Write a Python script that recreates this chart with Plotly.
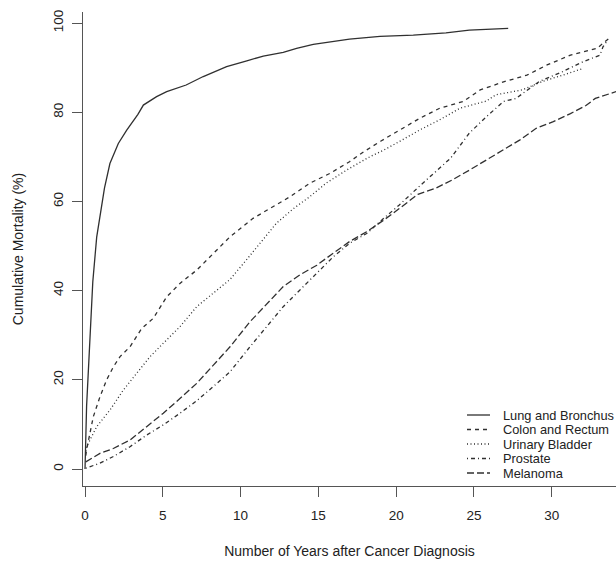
import plotly.graph_objects as go

# ---- data ----
series_names = ["Lung and Bronchus", "Colon and Rectum", "Urinary Bladder", "Prostate", "Melanoma"]

lung_x = [0, 0.05, 0.1, 0.2, 0.32, 0.5, 0.75, 1.0, 1.25, 1.6, 2.14, 2.68, 3.1, 3.4, 3.75, 4.6, 5.25,
          6.5, 7.6, 9.1, 10.4, 11.46, 12.74, 13.6, 14.67, 15.75, 17.0, 18.96, 21.1, 23.2, 24.7, 27.2]
lung_y = [0, 8, 14, 21, 31, 42, 52, 58, 63, 68.5, 73, 76, 78, 79.5, 81.6, 83.5, 84.6,
          86.1, 88, 90.2, 91.5, 92.6, 93.4, 94.3, 95.2, 95.7, 96.4, 97, 97.3, 97.8, 98.4, 98.8]

colon_x = [0.05, 0.1, 0.53, 0.96, 1.39, 1.82, 2.25, 2.89, 3.64, 4.39, 5.25, 6.1, 7.18, 8.25, 9.3,
           10.8, 11.9, 13.2, 14.46, 15.75, 17.0, 17.9, 19.0, 20.2, 21.5, 22.8, 24.3, 25.4, 26.9,
           28.4, 29.7, 31.2, 32.9, 33.7]
colon_y = [3, 4.3, 11.7, 16.2, 20, 22.9, 25.2, 27.4, 31.5, 33.8, 38.6, 41.6, 44.6, 48.4, 52,
           56.2, 58.4, 61.1, 64.1, 66.3, 68.9, 71.1, 73.5, 76, 78.6, 80.9, 82.4, 85, 86.8,
           88.3, 90.6, 92.8, 94.3, 96.6]

bladder_x = [0.05, 0.1, 0.75, 1.6, 2.46, 3.32, 4.18, 5.03, 6.1, 7.18, 8.25, 9.32, 10.4, 11.46, 12.3,
             13.4, 14.46, 15.5, 16.8, 18.3, 19.2, 20.4, 21.5, 22.8, 24.1, 25.8, 26.4, 28.1, 29.4,
             30.7, 32.0]
bladder_y = [4, 5, 9.5, 13.2, 17.7, 21.5, 25.2, 28.2, 31.9, 36.4, 39.4, 42.5, 47, 51.5, 55.1,
             58.4, 61.1, 64.1, 67, 70, 71.5, 73.8, 76, 78.3, 80.9, 82.5, 83.9, 85, 86.9,
             88.3, 89.8]

prostate_x = [0.05, 0.96, 1.82, 2.89, 3.96, 5.03, 6.1, 7.18, 8.25, 9.32, 10.6, 11.7, 12.74, 13.8,
              14.9, 15.96, 17.0, 18.1, 19.2, 20.2, 21.4, 22.5, 23.5, 24.7, 25.8, 26.9, 27.7,
              29.2, 30.7, 32.0, 33.1, 33.3, 33.6]
prostate_y = [0.2, 1.3, 2.8, 5, 7.6, 9.9, 12.5, 15.3, 18.5, 21.8, 27.4, 31.9, 36.4, 40.1,
              43.9, 47.6, 50.6, 52.8, 56.2, 59.2, 63.1, 66.6, 69.7, 75.3, 79, 82.4, 83.1,
              86.9, 89.1, 91.3, 92.8, 94.7, 96.2]

melanoma_x = [0.05, 0.96, 1.82, 2.89, 3.96, 5.03, 6.1, 7.18, 8.25, 9.32, 10.6, 11.7, 12.74, 13.8,
              14.9, 15.96, 17.0, 18.1, 19.2, 20.2, 21.4, 22.5, 23.6, 24.7, 25.8, 26.9, 27.96,
              29.0, 30.1, 31.2, 32.2, 32.8, 34.3]
melanoma_y = [1.6, 3.5, 4.6, 6.5, 9.5, 12.5, 15.8, 19.2, 23.3, 27.4, 33, 37.1, 40.9, 43.5,
              45.7, 48.4, 51, 53.2, 55.8, 58.4, 61.6, 62.9, 64.8, 67, 69.3, 71.5, 73.8,
              76.4, 77.9, 79.7, 81.5, 83.1, 84.8]

x_ticks = [0, 5, 10, 15, 20, 25, 30]
y_ticks = [0, 20, 40, 60, 80, 100]

# ---- styles ----
LINE_COLOR = "#303030"
dashes = ["solid", "4px,4px", "1px,2.5px", "1px,3px,4px,3px", "7px,3px"]
xs = [lung_x, colon_x, bladder_x, prostate_x, melanoma_x]
ys = [lung_y, colon_y, bladder_y, prostate_y, melanoma_y]

FONT = "Liberation Sans, Arial, Helvetica, sans-serif"
TEXT_COLOR = "#222222"
AXIS_COLOR = "#555555"

fig = go.Figure()
for name, x, y, d in zip(series_names, xs, ys, dashes):
    fig.add_trace(go.Scatter(x=x, y=y, mode="lines", name=name,
                             line=dict(color=LINE_COLOR, width=1.3, dash=d),
                             showlegend=False, hoverinfo="skip"))

# manual compact legend (R style), positioned in paper coordinates
L, R, T, B = 83, 616, 12, 486
def px_to_paper_x(px):
    return (px - L) / (R - L)
def px_to_paper_y(py):
    return (B - py) / (B - T)

legend_rows = [415, 429.5, 444, 458.5, 473]
for name, d, row in zip(series_names, dashes, legend_rows):
    yy = px_to_paper_y(row)
    fig.add_shape(type="line", xref="paper", yref="paper",
                  x0=px_to_paper_x(467), x1=px_to_paper_x(490), y0=yy, y1=yy,
                  line=dict(color=LINE_COLOR, width=1.3, dash=d))
    fig.add_annotation(xref="paper", yref="paper", x=px_to_paper_x(501), y=yy,
                       text=name, showarrow=False, xanchor="left", yanchor="middle",
                       font=dict(family=FONT, size=12.8, color=TEXT_COLOR))

fig.update_layout(
    width=616, height=564,
    margin=dict(l=L, r=616 - R, t=T, b=564 - B),
    paper_bgcolor="white", plot_bgcolor="white",
    font=dict(family=FONT, size=13.5, color=TEXT_COLOR),
    showlegend=False,
)
fig.update_xaxes(
    range=[-0.13, 34.13], tickvals=x_ticks, ticks="outside", ticklen=10, tickwidth=1.2,
    tickcolor=AXIS_COLOR, showline=True, linecolor=AXIS_COLOR, linewidth=1.2,
    showgrid=False, zeroline=False, ticklabelstandoff=7,
    title=dict(text="Number of Years after Cancer Diagnosis", standoff=23,
               font=dict(family=FONT, size=14, color=TEXT_COLOR)),
)
fig.update_yaxes(
    range=[-3.81, 102.47], tickvals=y_ticks, tickangle=-90, ticks="outside", ticklen=10,
    tickwidth=1.2, tickcolor=AXIS_COLOR, showline=True, linecolor=AXIS_COLOR, linewidth=1.2,
    showgrid=False, zeroline=False, ticklabelstandoff=4,
    title=dict(text="Cumulative Mortality (%)", standoff=23,
               font=dict(family=FONT, size=14, color=TEXT_COLOR)),
)

fig.write_html("out.html", config={"displayModeBar": False},
               post_script="document.body.style.margin='0';document.body.style.overflow='hidden';")
